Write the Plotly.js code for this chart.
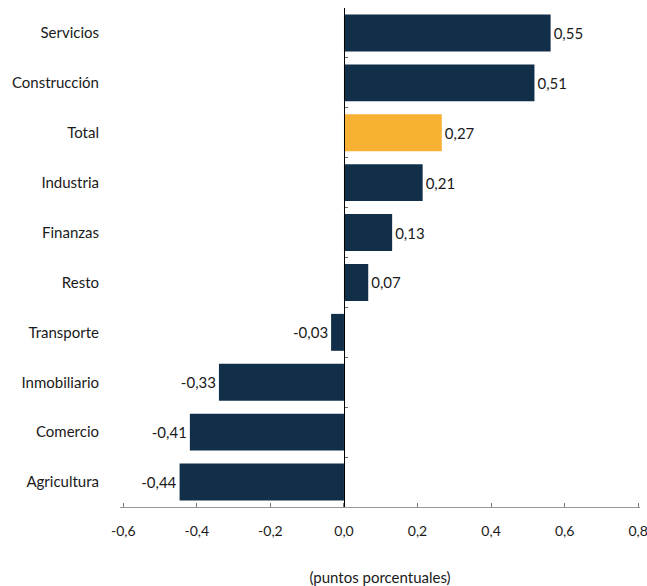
<!DOCTYPE html>
<html><head><meta charset="utf-8">
<script src="https://cdn.plot.ly/plotly-3.0.1.min.js"></script>
<style>html,body{margin:0;padding:0;background:#fff;}#chart{width:647px;height:586px;}</style>
</head><body><div id="chart"></div>
<script>
var categories = ["Servicios","Construcción","Total","Industria","Finanzas","Resto","Transporte","Inmobiliario","Comercio","Agricultura"];
var values = [0.562, 0.518, 0.266, 0.214, 0.131, 0.066, -0.035, -0.34, -0.419, -0.447];
var valueLabels = ["0,55","0,51","0,27","0,21","0,13","0,07","-0,03","-0,33","-0,41","-0,44"];
var xTickVals = [-0.6,-0.4,-0.2,0,0.2,0.4,0.6,0.8];
var xTickText = ["-0,6","-0,4","-0,2","0,0","0,2","0,4","0,6","0,8"];
var navy = "#122f4a", orange = "#f8b133";
var colors = categories.map(function(c){ return c === "Total" ? orange : navy; });
var font = "Lato, 'Noto Sans', sans-serif";
var xmin = -0.609, xmax = 0.805;

var traces = [{
  type: "bar", orientation: "h", x: values, y: categories,
  marker: {color: colors}, width: 0.74,
  text: valueLabels, textposition: "outside", cliponaxis: false,
  textfont: {family: font, size: 15, color: "#1a1a1a"},
  hoverinfo: "skip"
},{
  type: "bar", orientation: "h", x: values, y: categories, yaxis: "y2",
  marker: {color: "rgba(0,0,0,0)"}, width: 0.74, hoverinfo: "skip", showlegend: false
}];

var layout = {
  width: 647, height: 586,
  margin: {l: 120, r: 7, t: 8, b: 79},
  paper_bgcolor: "#fff", plot_bgcolor: "#fff",
  showlegend: false, barmode: "overlay",
  font: {family: font, size: 15, color: "#1a1a1a"},
  xaxis: {
    range: [xmin, xmax], tickvals: xTickVals, ticktext: xTickText,
    showline: true, linecolor: "#999", linewidth: 1,
    ticks: "inside", ticklen: 4, tickcolor: "#777",
    zeroline: false, showgrid: false, ticklabelstandoff: 11,
    ticklabeloverflow: "allow",
    tickfont: {family: font, size: 14, color: "#1a1a1a"},
    title: {text: "(puntos porcentuales)", font: {family: font, size: 15, color: "#1a1a1a"}, standoff: 34}
  },
  yaxis: {
    type: "category", categoryorder: "array", categoryarray: categories,
    autorange: "reversed", showline: false, ticks: "", showgrid: false, zeroline: false,
    ticklabelstandoff: 20,
    tickfont: {family: font, size: 15, color: "#1a1a1a"}
  },
  yaxis2: {
    type: "category", categoryorder: "array", categoryarray: categories,
    overlaying: "y", matches: "y", anchor: "free", side: "left",
    position: (0 - xmin) / (xmax - xmin),
    showline: true, linecolor: "#000", linewidth: 1.2,
    ticks: "inside", tickson: "boundaries", ticklen: 3, tickcolor: "#666",
    showticklabels: false, showgrid: false, zeroline: false
  }
};
Plotly.newPlot("chart", traces, layout, {displayModeBar: false, staticPlot: true});
</script></body></html>
